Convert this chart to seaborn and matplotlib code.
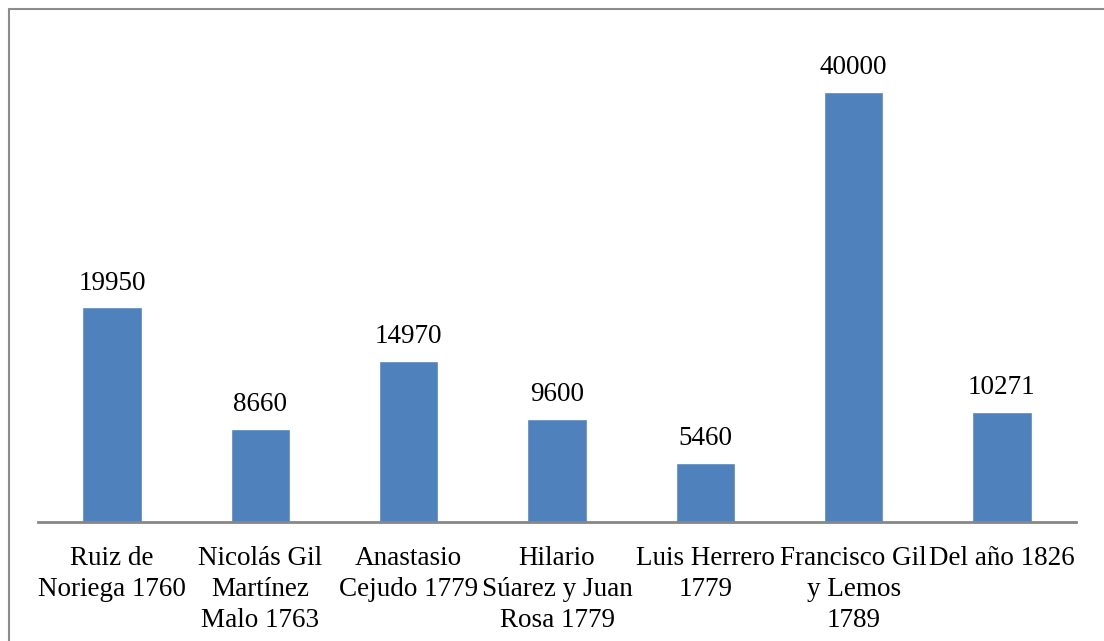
import numpy as np
import pandas as pd
import matplotlib
matplotlib.use("Agg")
import matplotlib.pyplot as plt
import seaborn as sns
from matplotlib.lines import Line2D


CATEGORIES = [
    "Ruiz de\nNoriega 1760",
    "Nicolás Gil\nMartínez\nMalo 1763",
    "Anastasio\nCejudo 1779",
    "Hilario\nSúarez y Juan\nRosa 1779",
    "Luis Herrero\n1779",
    "Francisco Gil\ny Lemos\n1789",
    "Del año 1826",
]
VALUES = [19950, 8660, 14970, 9600, 5460, 40000, 10271]

BAR_COLOR = "#4F81BD"
AXIS_GRAY = "#868686"


def main():
    sns.set_style("white")
    plt.rcParams["font.family"] = ["Liberation Serif", "DejaVu Serif"]
    plt.rcParams["text.color"] = "black"
    plt.rcParams["xtick.color"] = "black"

    df = pd.DataFrame({"name": CATEGORIES, "value": VALUES})

    fig = plt.figure(figsize=(11.04, 6.41), dpi=100)
    ax = fig.add_axes([38 / 1104, (641 - 522) / 641,
                       (1076 - 38) / 1104, (522 - 38) / 641])

    sns.barplot(data=df, x="name", y="value", color=BAR_COLOR,
                saturation=1, width=0.4, ax=ax)

    ax.set_xlim(-0.5, len(CATEGORIES) - 0.5)
    ax.set_ylim(0, 45000)
    for s in ("top", "right", "left"):
        ax.spines[s].set_visible(False)
    ax.spines["bottom"].set_color(AXIS_GRAY)
    ax.spines["bottom"].set_linewidth(2)
    ax.set_yticks([])
    ax.set_xlabel("")
    ax.set_ylabel("")
    ax.tick_params(axis="x", length=0, pad=17, labelsize=19.5,
                   labelcolor="black")
    for lab in ax.get_xticklabels():
        lab.set_linespacing(1.32)

    for i, v in enumerate(VALUES):
        ax.annotate(f"{v}", (i, v), xytext=(0, 8.5), textcoords="offset points",
                    ha="center", va="bottom", fontsize=19.5, color="black")

    # chart frame (left and top edges visible)
    fig.add_artist(Line2D([9 / 1104, 9 / 1104], [0, (641 - 9) / 641],
                          transform=fig.transFigure, color="#8c8c8c", lw=1.5))
    fig.add_artist(Line2D([9 / 1104, 1], [(641 - 9) / 641, (641 - 9) / 641],
                          transform=fig.transFigure, color="#8c8c8c", lw=1.5))

    fig.savefig("out.png", dpi=100)
    plt.close(fig)


if __name__ == "__main__":
    main()
